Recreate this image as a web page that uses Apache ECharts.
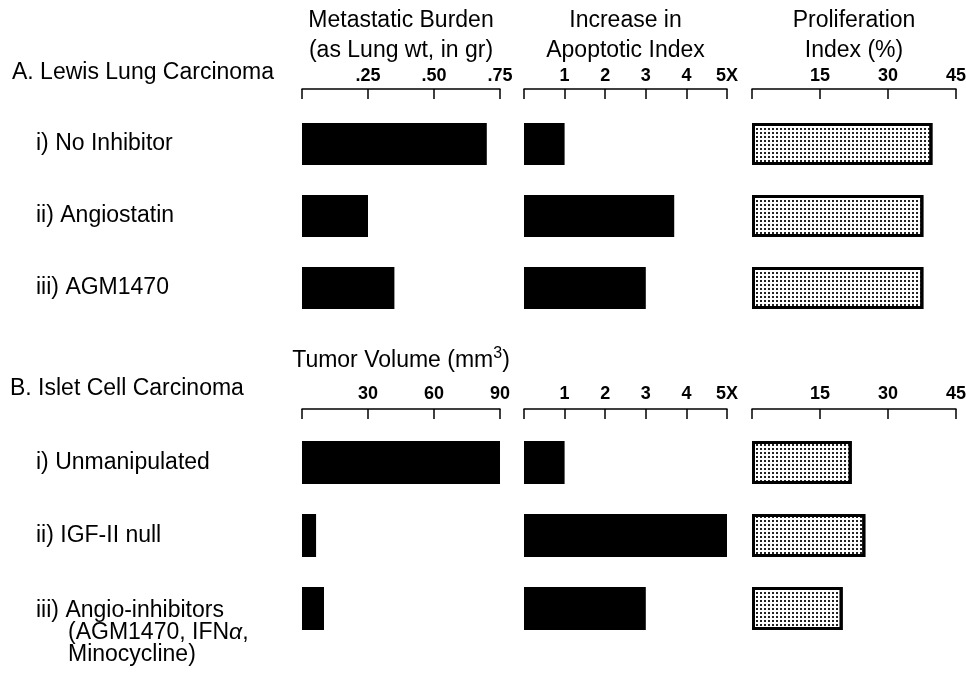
<!DOCTYPE html>
<html>
<head>
<meta charset="utf-8">
<script src="https://cdn.jsdelivr.net/npm/echarts@6/dist/echarts.min.js"></script>
<style>
  html, body { margin: 0; padding: 0; background: #fff; }
  #chart { width: 966px; height: 681px; }
</style>
</head>
<body>
<div id="chart"></div>
<script>
// ---- Data ----
const sectionA = 'A. Lewis Lung Carcinoma';
const sectionB = 'B. Islet Cell Carcinoma';
const rowsA = ['i) No Inhibitor', 'ii) Angiostatin', 'iii) AGM1470'];
const rowsB = ['i) Unmanipulated', 'ii) IGF-II null',
  'iii) Angio-inhibitors\n{sp| }(AGM1470, IFN{a|α},\n{sp| }Minocycline)'];

const metBurden = [0.70, 0.25, 0.35];     // lung wt, gr
const apoptoticA = [1.0, 3.7, 3.0];       // fold increase
const prolifA = [39.8, 37.8, 37.8];       // %
const tumorVolume = [90, 6.4, 10];        // mm3
const apoptoticB = [1.0, 5.0, 3.0];
const prolifB = [22, 25, 20];

const metTicks = ['', '.25', '.50', '.75'];
const apoTicks = ['', '1', '2', '3', '4', '5X'];
const proTicks = ['', '15', '30', '45'];
const volTicks = ['', '30', '60', '90'];

const titleMet = 'Metastatic Burden\n(as Lung wt, in gr)';
const titleApo = 'Increase in\nApoptotic Index';
const titlePro = 'Proliferation\nIndex (%)';
const titleVol = 'Tumor Volume (mm{sup|3})';

// ---- Layout ----
const FONT = '"Liberation Sans", Arial, Helvetica, sans-serif';
const FS = 23;
const lefts = [302, 524, 752];
const widths = [198, 203, 204];
const topA = 108, heightA = 216, offsetA = 19, barA = 42;
const topB = 426, heightB = 219, offsetB = 17, barB = 43;

const lineStyle = { color: '#000', width: 1.5 };

function makeX(gridIndex, max, interval, ticks, offset, name, nameGap, labelMargin) {
  return {
    type: 'value', gridIndex, position: 'top', offset,
    min: 0, max, interval,
    axisLine: { show: true, lineStyle },
    axisTick: { show: true, inside: true, length: 10, lineStyle },
    splitLine: { show: false },
    axisLabel: {
      margin: labelMargin, fontSize: 18, fontWeight: 'bold', color: '#000', fontFamily: FONT,
      formatter: v => ticks[Math.round(v / interval)] || ''
    },
    name: name || '',
    nameLocation: 'middle',
    nameGap: nameGap || 0,
    nameTextStyle: {
      fontSize: FS, lineHeight: 30, color: '#000', fontFamily: FONT,
      rich: { sup: { fontSize: 16, verticalAlign: 'top', lineHeight: 16 } }
    }
  };
}

function makeY(gridIndex, cats, showLabels) {
  return {
    type: 'category', gridIndex, inverse: true,
    data: cats.map((c, i) => (showLabels && i === 2 && cats === rowsB)
      ? { value: c, textStyle: { align: 'left', verticalAlign: 'middle', padding: [48, 0, 0, 0],
          fontSize: FS, lineHeight: 22, color: '#000', fontFamily: FONT } } : c),
    axisLine: { show: false }, axisTick: { show: false }, splitLine: { show: false },
    axisLabel: {
      show: showLabels, align: 'left', margin: 266,
      fontSize: FS, lineHeight: 22, color: '#000', fontFamily: FONT,
      rich: { sp: { width: 32 }, a: { fontStyle: 'italic' } }
    }
  };
}

const blackStyle = { color: '#000' };
const stippleStyle = {
  color: '#fff', borderColor: '#000', borderWidth: 3,
  decal: { symbol: 'rect', symbolSize: 1, dashArrayX: [1.2, 1.6], dashArrayY: [1.2, 1.6], color: '#222' }
};

const grids = [];
for (let i = 0; i < 3; i++) grids.push({ left: lefts[i], width: widths[i], top: topA, height: heightA, outerBoundsMode: 'none', containLabel: false });
for (let i = 0; i < 3; i++) grids.push({ left: lefts[i], width: widths[i], top: topB, height: heightB, outerBoundsMode: 'none', containLabel: false });

const option = {
  animation: false,
  backgroundColor: '#fff',
  textStyle: { fontFamily: FONT, color: '#000' },
  grid: grids,
  xAxis: [
    makeX(0, 0.75, 0.25, metTicks, offsetA, titleMet, 22, 4),
    makeX(1, 5, 1, apoTicks, offsetA, titleApo, 22, 4),
    makeX(2, 45, 15, proTicks, offsetA, titlePro, 22, 4),
    makeX(3, 90, 30, volTicks, offsetB, titleVol, 33, 6),
    makeX(4, 5, 1, apoTicks, offsetB, '', 0, 6),
    makeX(5, 45, 15, proTicks, offsetB, '', 0, 6)
  ],
  yAxis: [
    makeY(0, rowsA, true), makeY(1, rowsA, false), makeY(2, rowsA, false),
    makeY(3, rowsB, true), makeY(4, rowsB, false), makeY(5, rowsB, false)
  ],
  series: [
    { type: 'bar', xAxisIndex: 0, yAxisIndex: 0, data: metBurden, barWidth: barA, itemStyle: blackStyle },
    { type: 'bar', xAxisIndex: 1, yAxisIndex: 1, data: apoptoticA, barWidth: barA, itemStyle: blackStyle },
    { type: 'bar', xAxisIndex: 2, yAxisIndex: 2, data: prolifA, barWidth: barA, itemStyle: stippleStyle },
    { type: 'bar', xAxisIndex: 3, yAxisIndex: 3, data: tumorVolume, barWidth: barB, itemStyle: blackStyle },
    { type: 'bar', xAxisIndex: 4, yAxisIndex: 4, data: apoptoticB, barWidth: barB, itemStyle: blackStyle },
    { type: 'bar', xAxisIndex: 5, yAxisIndex: 5, data: prolifB, barWidth: barB, itemStyle: stippleStyle }
  ],
  graphic: [
    { type: 'text', left: 12, top: 61, style: { text: sectionA, font: FS + 'px ' + FONT, fill: '#000' } },
    { type: 'text', left: 10, top: 377, style: { text: sectionB, font: FS + 'px ' + FONT, fill: '#000' } }
  ]
};

const chart = echarts.init(document.getElementById('chart'), null, { renderer: 'canvas' });
chart.setOption(option);
</script>
</body>
</html>
